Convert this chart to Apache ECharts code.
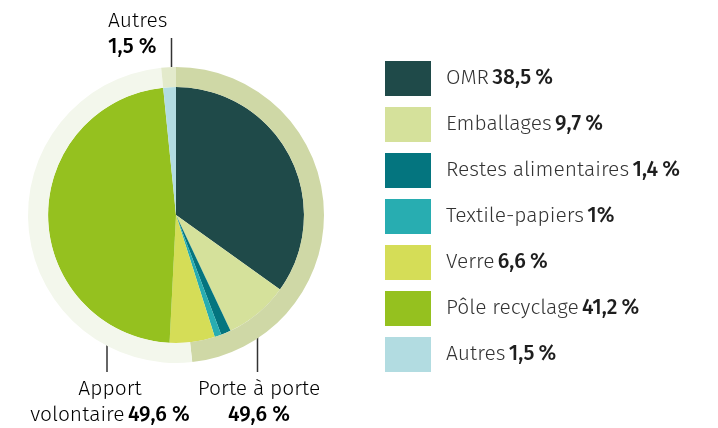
<!DOCTYPE html>
<html>
<head>
<meta charset="utf-8">
<style>
  html, body { margin: 0; padding: 0; background: #fff; }
  #chart { width: 718px; height: 428px; }
</style>
<script src="https://cdn.jsdelivr.net/npm/echarts@6/dist/echarts.min.js"></script>
</head>
<body>
<div id="chart"></div>
<script>
const categories = ['OMR', 'Emballages', 'Restes alimentaires', 'Textile-papiers', 'Verre', 'Pôle recyclage', 'Autres'];
const sliceValues = [34.9, 8.1, 1.25, 0.85, 5.7, 47.6, 1.6];
const shareLabels = ['38,5\u2009%', '9,7\u2009%', '1,4\u2009%', '1%', '6,6\u2009%', '41,2\u2009%', '1,5\u2009%'];
const colors = ['#1f4a49', '#d5e19b', '#04757f', '#28adb1', '#d5dd57', '#95c11f', '#b2dce1'];

// outer ring: collection mode
const ringNames = ['Porte à porte', 'Apport volontaire', 'Autres'];
const ringValues = [48.25, 50.15, 1.6];
const ringLabels = ['49,6 %', '49,6 %', '1,5 %'];
const ringColors = ['#cfd8a6', '#f3f7ec', '#e3eacb'];

const font = '"Fira Sans", "Open Sans", sans-serif';
const shareOf = {};
categories.forEach((c, i) => { shareOf[c] = shareLabels[i]; });

const richText = {
  n: { fontFamily: font, fontSize: 21, fontWeight: 300, color: '#333', lineHeight: 26 },
  b: { fontFamily: font, fontSize: 21, fontWeight: 500, color: '#1e1e1e', lineHeight: 26 }
};

let chart = echarts.init(document.getElementById('chart'));
chart.setOption({
  animation: false,
  legend: {
    orient: 'vertical',
    left: 385,
    top: 61,
    padding: 0,
    itemWidth: 46,
    itemHeight: 35,
    itemGap: 11,
    icon: 'rect',
    selectedMode: false,
    data: categories,
    formatter: function(name) {
      return '{n|' + name + '} {b|' + shareOf[name] + '}';
    },
    textStyle: {
      padding: [0, 0, 0, 10],
      rich: richText
    }
  },
  series: [
    {
      type: 'pie',
      center: [176, 215],
      radius: [0, 128],
      startAngle: 90,
      silent: true,
      label: { show: false },
      labelLine: { show: false },
      itemStyle: { borderWidth: 0 },
      data: categories.map((c, i) => ({ name: c, value: sliceValues[i], itemStyle: { color: colors[i] } }))
    },
    {
      type: 'pie',
      center: [176, 215],
      radius: [128, 148],
      startAngle: 90,
      silent: true,
      label: { show: false },
      labelLine: { show: false },
      itemStyle: { borderWidth: 0 },
      data: ringNames.map((c, i) => ({ name: 'ring-' + c, value: ringValues[i], itemStyle: { color: ringColors[i] } }))
    }
  ],
  graphic: [
    { type: 'line', shape: { x1: 171.5, y1: 38, x2: 171.5, y2: 67 }, style: { stroke: '#333', lineWidth: 1.5 } },
    { type: 'line', shape: { x1: 107, y1: 325, x2: 107, y2: 372 }, style: { stroke: '#333', lineWidth: 1.5 } },
    { type: 'line', shape: { x1: 257.5, y1: 326, x2: 257.5, y2: 372 }, style: { stroke: '#333', lineWidth: 1.5 } },
    {
      type: 'text', left: 108, top: 11,
      style: {
        text: '{n|' + ringNames[2] + '}\n{b|' + ringLabels[2] + '}',
        align: 'left',
        rich: richText
      }
    },
    {
      type: 'text', x: 110, y: 376,
      style: {
        text: '{n|Apport}\n{n|volontaire} {b|' + ringLabels[1] + '}',
        align: 'center',
        rich: richText
      }
    },
    {
      type: 'text', x: 259, y: 376,
      style: {
        text: '{n|' + ringNames[0] + '}\n{b|' + ringLabels[0] + '}',
        align: 'center',
        rich: richText
      }
    }
  ]
});
window.addEventListener('resize', function() {
  chart.resize();
});
</script>
</body>
</html>
